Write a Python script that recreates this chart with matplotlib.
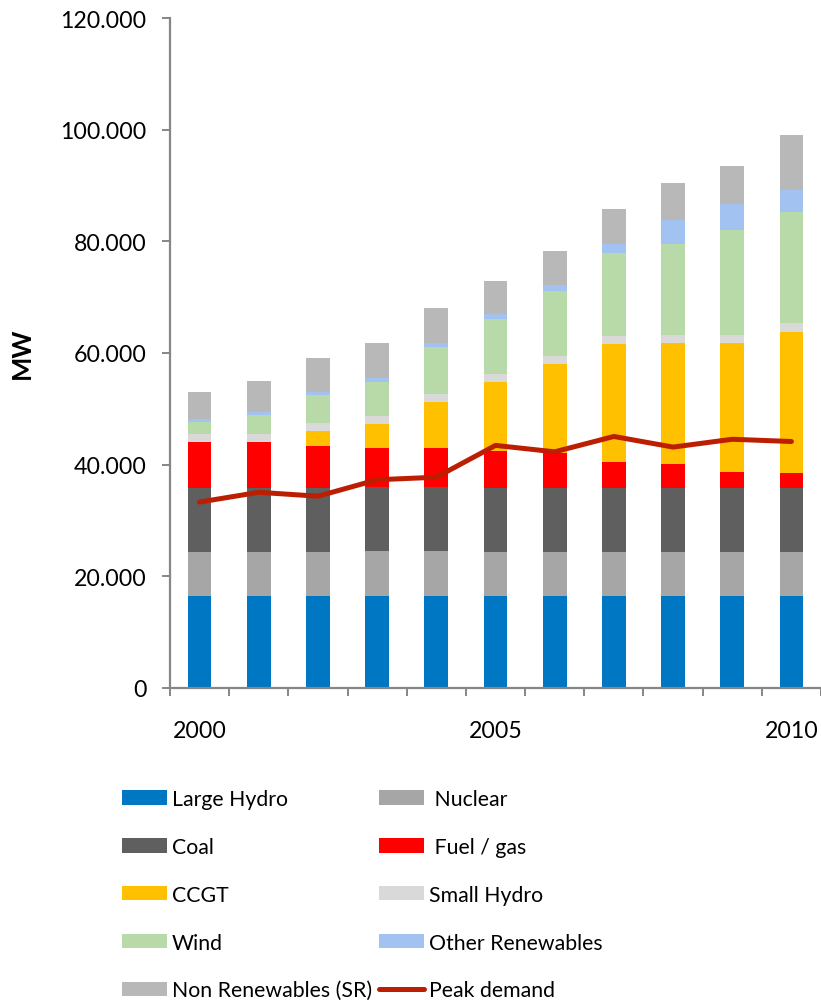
import matplotlib
matplotlib.use("Agg")
import matplotlib.pyplot as plt
from matplotlib.ticker import FuncFormatter, FixedLocator
from matplotlib.patches import Patch
from matplotlib.lines import Line2D
import numpy as np

plt.rcParams['font.family'] = ['Lato', 'DejaVu Sans']

years = [2000, 2001, 2002, 2003, 2004, 2005, 2006, 2007, 2008, 2009, 2010]
year_labels = ["2000", "", "", "", "", "2005", "", "", "", "", "2010"]

large_hydro = [16500, 16500, 16500, 16550, 16550, 16500, 16500, 16500, 16500, 16500, 16500]
nuclear     = [7850, 7850, 7850, 7900, 7900, 7900, 7800, 7800, 7800, 7800, 7800]
coal        = [11500, 11550, 11550, 11600, 11600, 11450, 11450, 11450, 11450, 11450, 11450]
fuel_gas    = [8200, 8200, 7400, 6850, 6850, 6600, 6400, 4750, 4350, 2950, 2750]
ccgt        = [0, 0, 2800, 4400, 8300, 12400, 15850, 21050, 21750, 23150, 25350]
small_hydro = [1450, 1480, 1380, 1480, 1430, 1450, 1520, 1460, 1460, 1460, 1520]
wind        = [2200, 3400, 5000, 6100, 8400, 9800, 11600, 14900, 16250, 18800, 19900]
other_ren   = [430, 420, 600, 600, 780, 800, 1000, 1530, 4200, 4530, 4000]
non_ren_sr  = [4950, 5550, 6100, 6330, 6330, 5930, 6130, 6330, 6600, 6860, 9850]
peak_demand = [33300, 35050, 34350, 37300, 37750, 43450, 42300, 45050, 43150, 44550, 44150]

series = [
    ("Large Hydro", large_hydro, "#0077C2"),
    ("Nuclear", nuclear, "#A6A6A6"),
    ("Coal", coal, "#5F5F5F"),
    ("Fuel / gas", fuel_gas, "#FF0000"),
    ("CCGT", ccgt, "#FFC000"),
    ("Small Hydro", small_hydro, "#D9D9D9"),
    ("Wind", wind, "#B7DAA8"),
    ("Other Renewables", other_ren, "#A2C3F2"),
    ("Non Renewables (SR)", non_ren_sr, "#B8B8B8"),
]
peak_color = "#BC1E02"
spine_color = "#868686"

W, H = 821, 1004
fig = plt.figure(figsize=(W / 100, H / 100), dpi=100)
ax = fig.add_axes([170 / W, 1 - 689 / H, (821 - 170) / W, (689 - 19) / H])

x = np.arange(len(years))
bottom = np.zeros(len(years))
handles = {}
for name, vals, col in series:
    v = np.array(vals, dtype=float)
    ax.bar(x, v, width=0.4, bottom=bottom, color=col, edgecolor="none", zorder=2)
    handles[name] = Patch(facecolor=col, edgecolor="none")
    bottom += v

ax.plot(x, peak_demand, color=peak_color, lw=3.6, solid_capstyle="round",
        solid_joinstyle="round", zorder=3)
handles["Peak demand"] = Line2D([0], [0], color=peak_color, lw=3.6, solid_capstyle="round")

ax.set_xlim(-0.5, len(years) - 0.5)
ax.set_ylim(0, 120000)
ax.set_yticks(np.arange(0, 120001, 20000))
ax.yaxis.set_major_formatter(FuncFormatter(lambda v, p: f"{int(v):,}".replace(",", ".")))

ax.xaxis.set_major_locator(FixedLocator(np.arange(-0.5, len(years), 1.0)))
ax.xaxis.set_major_formatter(FuncFormatter(lambda v, p: ""))
ax.xaxis.set_minor_locator(FixedLocator(x))
ax.set_xticklabels(year_labels, minor=True)

for s in ["top", "right"]:
    ax.spines[s].set_visible(False)
for s in ["left", "bottom"]:
    ax.spines[s].set_color(spine_color)
    ax.spines[s].set_linewidth(1.6)
    ax.spines[s].set_zorder(4)

ax.tick_params(axis="y", which="major", direction="out", length=5.5, width=1.4,
               color=spine_color, labelsize=16.7, pad=11.5, labelcolor="black")
ax.tick_params(axis="x", which="major", direction="out", length=6, width=1.4,
               color=spine_color)
ax.tick_params(axis="x", which="minor", length=0, labelsize=16.7, pad=23,
               labelcolor="black")

fig.text(22 / W, 1 - 353 / H, "MW", rotation=90, fontsize=18.5, fontweight="bold",
         ha="center", va="center")

col1 = ["Large Hydro", "Coal", "CCGT", "Wind", "Non Renewables (SR)"]
col2 = ["Nuclear", "Fuel / gas", "Small Hydro", "Other Renewables", "Peak demand"]
col2_labels = [" Nuclear", " Fuel / gas", "Small Hydro", "Other Renewables", "Peak demand"]

fs = 15.3
common = dict(frameon=False, borderpad=0, borderaxespad=0, handlelength=45 / (fs * 100 / 72),
              handleheight=0.66, handletextpad=0.24, labelspacing=1.31,
              prop={"size": fs, "family": ["Lato", "DejaVu Sans"]}, loc="upper left")
leg1 = fig.legend([handles[n] for n in col1], col1,
                  bbox_to_anchor=(122 / W, 1 - 790 / H), **common)
leg2 = fig.legend([handles[n] for n in col2], col2_labels,
                  bbox_to_anchor=(379 / W, 1 - 790 / H), **common)

fig.savefig("out.png", dpi=100)
